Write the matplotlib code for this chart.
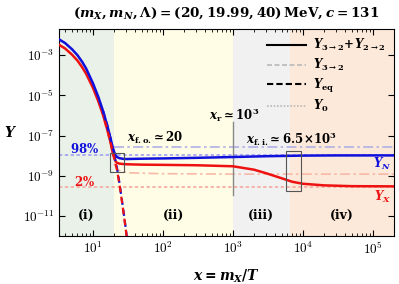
import matplotlib
matplotlib.use('AGG')
import numpy as np
import matplotlib.pyplot as plt
from matplotlib.patches import Rectangle
from matplotlib.lines import Line2D
from matplotlib.ticker import FuncFormatter, NullLocator

plt.rcParams['mathtext.fontset'] = 'cm'
plt.rcParams['mathtext.rm'] = 'DejaVu Serif:bold'
plt.rcParams['mathtext.it'] = 'DejaVu Serif:italic:bold'
plt.rcParams['mathtext.bf'] = 'DejaVu Serif:bold'
plt.rcParams['font.family'] = 'serif'

# solid curves, log10(Y)
x_N = [3.16, 4, 5, 6, 7, 8, 10, 12, 14, 16, 18, 19, 20, 21, 22, 24, 27, 30, 40, 60, 100, 300,
       1e3, 3e3, 1e4, 3e4, 2e5]
logY_N = [-2.18, -2.4, -2.7, -3.0, -3.33, -3.67, -4.4, -5.1, -5.8, -6.5, -7.2, -7.55, -7.8, -7.97,
          -8.07, -8.13, -8.16, -8.17, -8.16, -8.15, -8.14, -8.11, -8.07, -8.03, -8.0, -7.99, -7.99]
x_X = [3.16, 4, 5, 6, 7, 8, 10, 12, 14, 16, 18, 19, 20, 21, 22, 24, 27, 30, 50, 100, 300,
       1e3, 2e3, 3e3, 5e3, 7e3, 1e4, 2e4, 5e4, 2e5]
logY_X = [-2.45, -2.67, -2.97, -3.27, -3.6, -3.93, -4.63, -5.32, -6.0, -6.7, -7.4, -7.8, -8.1, -8.28,
          -8.36, -8.4, -8.42, -8.43, -8.45, -8.46, -8.48, -8.53, -8.7, -8.88, -9.13, -9.3, -9.4,
          -9.48, -9.52, -9.53]
# equilibrium tails
x_eq = [14, 16, 18, 20, 22, 24, 26, 28, 30, 32]
logYeq_N = [-5.8, -6.5, -7.2, -7.9, -8.6, -9.4, -10.25, -11.05, -11.85, -12.6]
logYeq_X = [-6.0, -6.7, -7.4, -8.05, -8.7, -9.45, -10.3, -11.1, -11.9, -12.65]
# 3->2 only
x_32N = [20, 2e5]
logY32_N = [-7.58, -7.58]
x_32X = [20, 21, 23, 26, 35, 100, 1e3, 2e5]
logY32_X = [-8.4, -8.55, -8.72, -8.8, -8.86, -8.9, -8.92, -8.92]
# Y_0 levels
logY0_N = -7.97
logY0_X = -9.57

regions = [(3.0, 20, '#e9f1e9', '(i)'), (20, 1e3, '#fffde6', '(ii)'),
           (1e3, 6.5e3, '#f1f1f1', '(iii)'), (6.5e3, 2.5e5, '#fde9d9', '(iv)')]

blue = '#1010dd'
red = '#ee1111'

fig = plt.figure(figsize=(3.99, 2.84), dpi=100)
ax = fig.add_axes([59 / 399, 1 - 236 / 284, 335 / 399, 207 / 284])
ax.set_xscale('log')
ax.set_yscale('log')
ax.set_xlim(10 ** 0.515, 2e5)
ax.set_ylim(1e-12, 10 ** -1.7)

for lo, hi, col, lab in regions:
    ax.axvspan(lo, hi, color=col, lw=0, zorder=0)
    xm = np.sqrt(max(lo, 10 ** 0.515) * min(hi, 2e5))
    ax.text(xm, 1e-11, lab, ha='center', va='center', fontsize=9, math_fontfamily='custom',
            family='DejaVu Serif', fontweight='bold', zorder=5)

ax.axhline(10 ** logY0_N, color='#9fa0ee', ls=(0, (2, 1.5)), lw=1.2, zorder=2)
ax.axhline(10 ** logY0_X, color='#f5aaa0', ls=(0, (2, 1.5)), lw=1.2, zorder=2)
ax.plot(x_32N, 10 ** np.array(logY32_N), color='#b0b0e6', ls=(0, (6, 2, 1.5, 2)), lw=1.2, zorder=2)
ax.plot(x_32X, 10 ** np.array(logY32_X), color='#f8b8a8', ls=(0, (6, 2, 1.5, 2)), lw=1.2, zorder=2)

ax.plot(x_X, 10 ** np.array(logY_X), color=red, lw=1.8, zorder=4)
ax.plot(x_N, 10 ** np.array(logY_N), color=blue, lw=1.8, zorder=4)
ax.plot(x_eq, 10 ** np.array(logYeq_N), color=blue, lw=1.6, ls=(0, (3, 2)), zorder=5)
ax.plot(x_eq, 10 ** np.array(logYeq_X), color=red, lw=1.6, ls=(2.5, (3, 2)), zorder=5)

# zoom boxes
ax.add_patch(Rectangle((17.5, 10 ** -8.8), 27.7 - 17.5, 10 ** -7.85 - 10 ** -8.8,
                       fill=False, ec='#555555', lw=0.8, zorder=6))
ax.add_patch(Rectangle((5800, 10 ** -9.78), 9300 - 5800, 10 ** -7.75 - 10 ** -9.78,
                       fill=False, ec='#555555', lw=0.8, zorder=6))
ax.plot([1e3, 1e3], [10 ** -9.95, 10 ** -6.35], color='#888888', lw=1.0, zorder=3)

tkw = dict(math_fontfamily='custom', fontsize=8.5, zorder=7)
ax.text(31, 10 ** -7.1, r'$x_{\rm f.o.}\!\simeq20$', va='center', ha='left', **tkw)
ax.text(1.05e3, 10 ** -6.0, r'$x_{\rm r}\simeq10^3$', va='center', ha='center', **tkw)
ax.text(1.55e3, 10 ** -7.15, r'$x_{\rm f.i.}\!\simeq6.5\!\times\!10^3$', va='center', ha='left', **tkw)
ax.text(7.5, 10 ** -7.65, r'$98\%$', color=blue, ha='center', va='center', **tkw)
ax.text(7.5, 10 ** -9.3, r'$2\%$', color=red, ha='center', va='center', **tkw)
ax.text(1.35e5, 10 ** -8.4, r'$Y_N$', color=blue, ha='center', va='center', **tkw)
ax.text(1.35e5, 10 ** -10.05, r'$Y_X$', color=red, ha='center', va='center', **tkw)

decade = FuncFormatter(lambda v, p: r'$10^{%d}$' % int(round(np.log10(v))))
ax.set_yticks([1e-3, 1e-5, 1e-7, 1e-9, 1e-11])
ax.yaxis.set_minor_locator(NullLocator())
ax.xaxis.set_major_formatter(decade)
ax.yaxis.set_major_formatter(decade)
ax.tick_params(which='both', direction='in', top=True, right=True, labelsize=9.5)
ax.tick_params(which='major', length=4)
ax.tick_params(which='minor', length=2)

ax.set_xlabel(r'$x = m_X/T$', fontsize=10, math_fontfamily='custom', labelpad=8)
ax.set_ylabel(r'$Y$', fontsize=10, math_fontfamily='custom', rotation=0, va='center')
ax.yaxis.set_label_coords(-48 / 335, 0.5)
ax.set_title(r'$(m_X, m_N, \Lambda) = (20, 19.99, 40)\,{\rm MeV}, c = 131$', fontsize=9.7,
             math_fontfamily='custom', pad=9)

handles = [Line2D([], [], color='black', lw=1.5),
           Line2D([], [], color='#b8b8b8', lw=1.2, ls=(0, (3, 1.5))),
           Line2D([], [], color='black', lw=1.5, ls=(0, (3, 1.5))),
           Line2D([], [], color='#b8b8b8', lw=1.2, ls=(0, (1, 1)))]
labels = [r'$Y_{3\to2}\!+\!Y_{2\to2}$', r'$Y_{3\to2}$', r'$Y_{\rm eq}$', r'$Y_0$']
leg = ax.legend(handles, labels, loc='upper right', frameon=False, fontsize=8.5,
                handlelength=3.3, labelspacing=0.3, borderaxespad=0.3, handletextpad=0.6)
for t in leg.get_texts():
    t.set_math_fontfamily('custom')

fig.savefig('out.png', dpi=100)
